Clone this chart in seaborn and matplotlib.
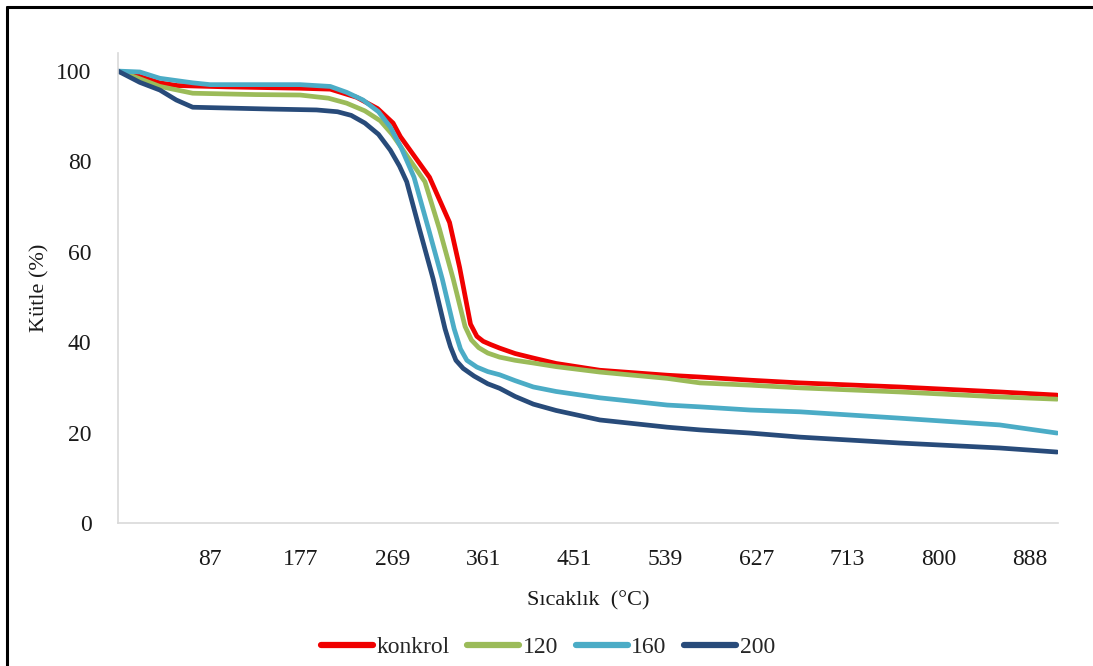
import numpy as np
import pandas as pd
import matplotlib
matplotlib.use("Agg")
import matplotlib.pyplot as plt
from matplotlib.lines import Line2D
import seaborn as sns

# Category-axis tick labels (temperature, °C); positions 0..9 on the category axis
tick_labels = ["87", "177", "269", "361", "451", "539", "627", "713", "800", "888"]

# Positions along the category axis (in tick-label units) and mass (%) for each series
konkrol_pos = [-1.01, -0.77, -0.55, -0.36, 0.19, 0.99, 1.32, 1.61, 1.84, 2.01, 2.09, 2.25, 2.41,
               2.63, 2.74, 2.86, 2.93, 3.0, 3.08, 3.18, 3.35, 3.55, 3.8, 4.28, 5.02, 5.38, 5.93,
               6.48, 7.57, 8.67, 9.30]
konkrol_val = [100, 98.8, 97.4, 96.8, 96.5, 96.2, 96.0, 94.2, 91.7, 88.5, 85.5, 81.0, 76.5,
               66.5, 56.6, 44.0, 41.3, 40.2, 39.5, 38.7, 37.5, 36.5, 35.3, 33.8, 32.7, 32.3, 31.6,
               31.0, 30.1, 29.0, 28.3]

s120_pos = [-1.01, -0.77, -0.55, -0.19, 0.5, 0.99, 1.3, 1.5, 1.7, 1.87, 2.0, 2.12, 2.24, 2.36,
            2.52, 2.67, 2.8, 2.87, 2.95, 3.05, 3.18, 3.35, 3.55, 3.8, 4.28, 5.02, 5.38, 5.93,
            6.48, 7.57, 8.67, 9.30]
s120_val = [100, 98.3, 96.6, 95.1, 94.8, 94.7, 94.0, 92.9, 91.2, 89.0, 86.0, 82.5, 79.0, 75.5,
            65.0, 54.0, 43.5, 40.5, 38.8, 37.6, 36.7, 36.0, 35.4, 34.6, 33.4, 32.0, 31.0, 30.5,
            29.9, 29.0, 27.9, 27.4]

s160_pos = [-1.01, -0.77, -0.55, -0.19, 0.0, 0.99, 1.32, 1.5, 1.68, 1.85, 1.98, 2.1, 2.24,
            2.40, 2.55, 2.68, 2.75, 2.82, 2.93, 3.05, 3.18, 3.35, 3.55, 3.8, 4.28, 5.02, 5.38,
            5.93, 6.48, 7.57, 8.67, 9.30]
s160_val = [100, 99.8, 98.4, 97.4, 97.0, 97.0, 96.6, 95.3, 93.6, 91.0, 87.6, 83.0, 76.5,
            65.0, 54.0, 43.0, 38.5, 36.0, 34.5, 33.5, 32.8, 31.5, 30.1, 29.1, 27.7, 26.1, 25.7,
            25.0, 24.6, 23.2, 21.7, 19.9]

s200_pos = [-1.01, -0.77, -0.55, -0.37, -0.19, 0.66, 1.17, 1.4, 1.55, 1.7, 1.85, 1.98, 2.08,
            2.16, 2.30, 2.45, 2.58, 2.64, 2.70, 2.78, 2.9, 3.05, 3.18, 3.35, 3.55, 3.8, 4.28,
            5.02, 5.38, 5.93, 6.48, 7.57, 8.67, 9.30]
s200_val = [100, 97.5, 95.8, 93.6, 92.0, 91.6, 91.4, 91.0, 90.2, 88.5, 86.0, 82.5, 79.0,
            75.5, 65.0, 54.0, 43.0, 39.0, 36.0, 34.2, 32.5, 30.8, 29.8, 28.0, 26.3, 24.9, 22.8,
            21.2, 20.6, 19.9, 19.0, 17.7, 16.6, 15.7]

series_names = ["konkrol", "120", "160", "200"]
colors = {"konkrol": "#F00000", "120": "#9BBB59", "160": "#4BACC6", "200": "#284B7A"}

frames = []
for name, p, v in [("konkrol", konkrol_pos, konkrol_val), ("120", s120_pos, s120_val),
                   ("160", s160_pos, s160_val), ("200", s200_pos, s200_val)]:
    frames.append(pd.DataFrame({"pos": p, "val": v, "series": name}))
df = pd.concat(frames, ignore_index=True)

sns.set_theme(style="white")
plt.rcParams["font.family"] = ["Liberation Serif", "DejaVu Serif"]

fig = plt.figure(figsize=(10.93, 6.66), dpi=100)
ax = fig.add_axes([118 / 1093, 1 - 523 / 666, (1058 - 118) / 1093, (523 - 53) / 666])

sns.lineplot(data=df, x="pos", y="val", hue="series", hue_order=series_names,
             palette=colors, sort=False, estimator=None, linewidth=3.4, ax=ax,
             legend=False)
for ln in ax.get_lines():
    ln.set_solid_joinstyle("round")

ax.set_xlim(-1.01, 9.31)
ax.set_ylim(0, 104)
ax.set_xticks(range(len(tick_labels)))
ax.set_xticklabels(tick_labels)
ax.set_yticks([0, 20, 40, 60, 80, 100])
ax.tick_params(axis="both", length=0, labelsize=17, colors="#1a1a1a")
ax.tick_params(axis="x", pad=19)
ax.tick_params(axis="y", pad=19)

for s in ["top", "right"]:
    ax.spines[s].set_visible(False)
for s in ["left", "bottom"]:
    ax.spines[s].set_color("#D9D9D9")
    ax.spines[s].set_linewidth(1.2)

ax.set_xlabel("Sıcaklık  (°C)", fontsize=16, color="#1a1a1a", labelpad=15)
ax.set_ylabel("Kütle (%)", fontsize=16, color="#1a1a1a", labelpad=5)

handles = [Line2D([0], [0], color=colors[n], lw=4.5, solid_capstyle="round") for n in series_names]
fig.legend(handles, series_names, loc="center", bbox_to_anchor=(548 / 1093, 1 - 647 / 666),
           ncol=4, frameon=False, fontsize=17, handlelength=2.2, handletextpad=0.15,
           columnspacing=0.75)

# chart-area border (left and top edges visible)
fig.add_artist(Line2D([7 / 1093, 7 / 1093], [0, 1 - 7 / 666], transform=fig.transFigure,
                      color="black", lw=2.2))
fig.add_artist(Line2D([7 / 1093, 1], [1 - 7 / 666, 1 - 7 / 666], transform=fig.transFigure,
                      color="black", lw=2.2))

fig.savefig("out.png", dpi=100)
